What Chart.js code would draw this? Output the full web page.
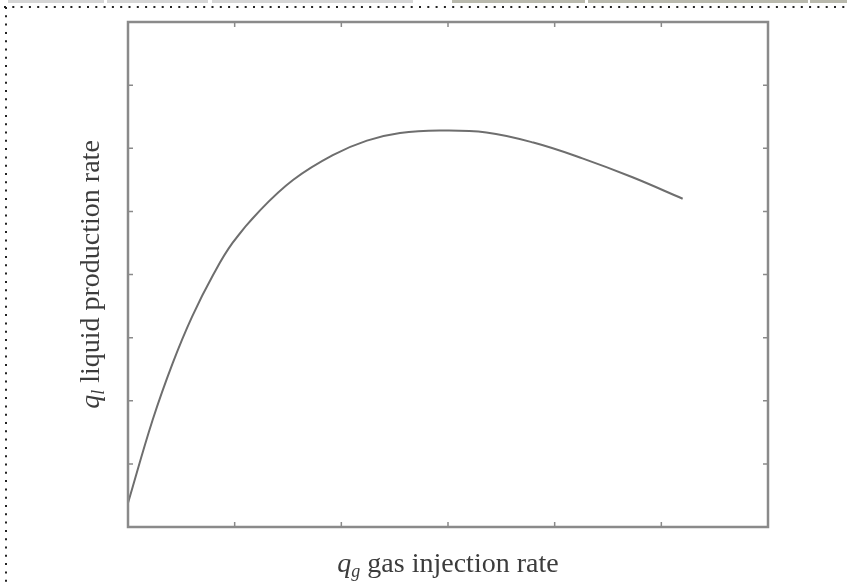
<!DOCTYPE html>
<html>
<head>
<meta charset="utf-8">
<script src="https://cdn.jsdelivr.net/npm/chart.js@4.4.0/dist/chart.umd.min.js"></script>
<style>
  html, body { margin: 0; padding: 0; background: #fff; }
  #wrap { width: 847px; height: 583px; position: relative; }
</style>
</head>
<body>
<div id="wrap"><canvas id="gasLift"></canvas></div>
<script>
// gas injection rate (x) vs liquid production rate (y)
const gasInjection = [0, 0.23, 0.42, 0.6, 0.8, 0.98, 1.24, 1.55, 1.92, 2.24, 2.55, 2.92, 3.36, 3.8, 4.26, 4.73, 5.2];
const liquidRate   = [0.38, 1.69, 2.6, 3.33, 4.0, 4.5, 5.02, 5.5, 5.89, 6.12, 6.24, 6.28, 6.25, 6.09, 5.84, 5.54, 5.2];
const xTicks = [0, 1, 2, 3, 4, 5, 6];
const yTicks = [0, 1, 2, 3, 4, 5, 6, 7, 8];

const frameColor = '#8a8a8a';
const textColor = '#3c3c3c';
const serif = '"Liberation Serif", "DejaVu Serif", serif';

// frame + inward ticks on all four sides, page decoration, axis titles
const framePlugin = {
    id: 'frame',
    afterDraw(chart) {
        const ctx = chart.ctx;
        const a = chart.chartArea;
        const xs = chart.scales.x, ys = chart.scales.y;
        ctx.save();

        // dotted page edge
        ctx.strokeStyle = '#222';
        ctx.lineWidth = 2;
        ctx.setLineDash([2, 6.3]);
        ctx.beginPath();
        ctx.moveTo(4, 7); ctx.lineTo(847, 7);
        ctx.moveTo(6, 7); ctx.lineTo(6, 583);
        ctx.stroke();
        ctx.setLineDash([]);

        // strip at the very top
        const strips = [[8, 104, '#d6d6d6'], [107, 208, '#d6d6d6'], [212, 413, '#d6d6d6'],
                        [452, 585, '#b9b9ad'], [588, 808, '#b9b9ad'], [810, 847, '#b9b9ad']];
        strips.forEach(([x0, x1, c]) => { ctx.fillStyle = c; ctx.fillRect(x0, 0, x1 - x0, 3); });

        // frame
        ctx.strokeStyle = frameColor;
        ctx.lineWidth = 2.5;
        ctx.strokeRect(a.left, a.top, a.right - a.left, a.bottom - a.top);

        // inward ticks
        ctx.lineWidth = 1.5;
        ctx.beginPath();
        xTicks.forEach(v => {
            const px = xs.getPixelForValue(v);
            ctx.moveTo(px, a.bottom); ctx.lineTo(px, a.bottom - 5);
            ctx.moveTo(px, a.top); ctx.lineTo(px, a.top + 5);
        });
        yTicks.forEach(v => {
            const py = ys.getPixelForValue(v);
            ctx.moveTo(a.left, py); ctx.lineTo(a.left + 5, py);
            ctx.moveTo(a.right, py); ctx.lineTo(a.right - 5, py);
        });
        ctx.stroke();

        // axis titles: italic q with italic subscript, then plain text
        const drawTitle = (sub, rest) => {
            ctx.font = 'italic 28px ' + serif;
            const wq = ctx.measureText('q').width;
            ctx.font = 'italic 18px ' + serif;
            const ws = ctx.measureText(sub).width;
            ctx.font = '28px ' + serif;
            const wr = ctx.measureText(rest).width;
            let x = -(wq + ws + wr) / 2;
            ctx.fillStyle = textColor;
            ctx.textBaseline = 'alphabetic';
            ctx.textAlign = 'left';
            ctx.font = 'italic 28px ' + serif;
            ctx.fillText('q', x, 0); x += wq;
            ctx.font = 'italic 18px ' + serif;
            ctx.fillText(sub, x, 5); x += ws;
            ctx.font = '28px ' + serif;
            ctx.fillText(rest, x, 0);
        };

        ctx.save();
        ctx.translate((a.left + a.right) / 2, 572);
        drawTitle('g', ' gas injection rate');
        ctx.restore();

        ctx.save();
        ctx.translate(99, (a.top + a.bottom) / 2);
        ctx.rotate(-Math.PI / 2);
        drawTitle('l', ' liquid production rate');
        ctx.restore();

        ctx.restore();
    }
};

try {
    const el = document.getElementById('gasLift');
    new Chart(el, {
        type: 'scatter',
        data: {
            datasets: [{
                data: gasInjection.map((g, i) => ({ x: g, y: liquidRate[i] })),
                showLine: true,
                borderColor: '#6e6e6e',
                borderWidth: 2,
                pointRadius: 0,
                tension: 0.4,
                fill: false
            }]
        },
        options: {
            responsive: true,
            maintainAspectRatio: false,
            animation: false,
            layout: { padding: { left: 128, right: 79, top: 22, bottom: 56 } },
            plugins: { legend: { display: false }, tooltip: { enabled: false } },
            scales: {
                x: {
                    type: 'linear', min: 0, max: 6,
                    ticks: { display: false, stepSize: 1 },
                    grid: { display: false },
                    border: { display: false },
                    afterFit(scale) { scale.height = 0; }
                },
                y: {
                    type: 'linear', min: 0, max: 8,
                    ticks: { display: false, stepSize: 1 },
                    grid: { display: false },
                    border: { display: false },
                    afterFit(scale) { scale.width = 0; }
                }
            }
        },
        plugins: [framePlugin]
    });
} catch (error) {
    console.error(error.message);
}
</script>
</body>
</html>
